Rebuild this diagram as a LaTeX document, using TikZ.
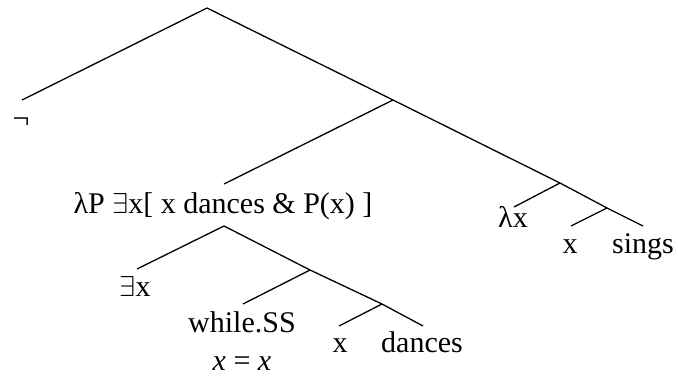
\documentclass[tikz,border=0pt]{standalone}
\usepackage{fontspec}
\setmainfont{Liberation Serif}
\begin{document}
\begin{tikzpicture}[x=0.5pt,y=-0.5pt,line width=0.65pt,
  lbl/.style={anchor=base,inner sep=0pt,font=\fontsize{15}{18}\selectfont}]
\useasboundingbox (0,0) rectangle (678,375);
% tree points
\coordinate (root) at (207,8);
\coordinate (negE) at (22,100);
\coordinate (n1) at (393,100);
\coordinate (n2t) at (224,184);
\coordinate (n2b) at (224,226);
\coordinate (exE) at (137,269);
\coordinate (n4) at (310,270);
\coordinate (whE) at (243,304);
\coordinate (n5) at (382,304);
\coordinate (x1E) at (339,326);
\coordinate (daE) at (423,326);
\coordinate (n6) at (560,183);
\coordinate (lxE) at (514,207);
\coordinate (n7) at (607,208);
\coordinate (x2E) at (571,226);
\coordinate (siE) at (643,226);
% labels
\node[lbl] (neg) at (21,128) {¬};
\node[lbl] (n2) at (223,213) {λP $\exists$x[ x dances \& P(x) ]};
\node[lbl] (ex) at (135,296) {$\exists$x};
\node[lbl] (wh) at (242,332) {while.SS};
\node[lbl] (xx) at (242,370) {\textit{x} = \textit{x}};
\node[lbl] (x1) at (340,352) {x};
\node[lbl] (da) at (422,352) {dances};
\node[lbl] (lx) at (513,227) {λx};
\node[lbl] (x2) at (570,253) {x};
\node[lbl] (si) at (643,253) {sings};
% branches
\draw (negE) -- (root) -- (n1) -- (n6);
\draw (n1) -- (n2t);
\draw (exE) -- (n2b) -- (n4) -- (n5) -- (daE);
\draw (n4) -- (whE);
\draw (n5) -- (x1E);
\draw (n6) -- (lxE);
\draw (n6) -- (n7) -- (siE);
\draw (n7) -- (x2E);
\end{tikzpicture}
\end{document}
